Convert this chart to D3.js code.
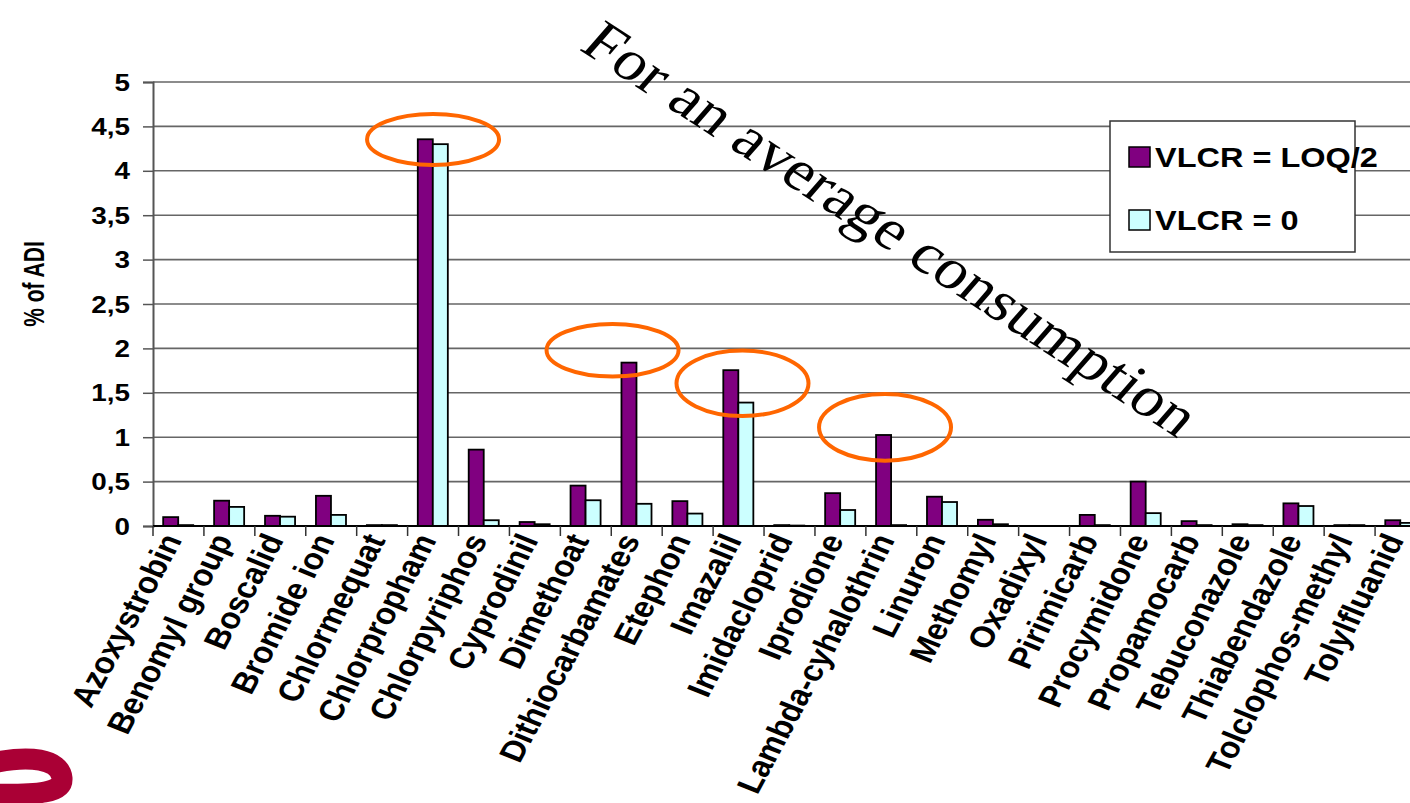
<!DOCTYPE html>
<html>
<head>
<meta charset="utf-8">
<script src="https://cdn.jsdelivr.net/npm/d3@7"></script>
<style>
  html, body { margin: 0; padding: 0; background: #ffffff; }
  svg { display: block; }
</style>
</head>
<body>
<svg id="chart" width="1410" height="803"></svg>
<script>
// Pesticides, exposure as % of ADI
const categories = [
  "Azoxystrobin", "Benomyl group", "Boscalid", "Bromide ion", "Chlormequat",
  "Chlorpropham", "Chlorpyriphos", "Cyprodinil", "Dimethoat", "Dithiocarbamates",
  "Etephon", "Imazalil", "Imidacloprid", "Iprodione", "Lambda-cyhalothrin",
  "Linuron", "Methomyl", "Oxadixyl", "Pirimicarb", "Procymidone",
  "Propamocarb", "Tebuconazole", "Thiabendazole", "Tolclophos-methyl", "Tolylfluanid"
];
// VLCR = LOQ/2
const valuesLoqHalf = [
  0.10, 0.285, 0.115, 0.34, 0.01,
  4.355, 0.86, 0.045, 0.455, 1.84,
  0.28, 1.755, 0.01, 0.37, 1.025,
  0.33, 0.07, 0, 0.125, 0.50,
  0.055, 0.02, 0.255, 0.01, 0.065
];
// VLCR = 0
const valuesZero = [
  0.01, 0.215, 0.105, 0.125, 0.01,
  4.30, 0.065, 0.02, 0.29, 0.25,
  0.14, 1.39, 0.005, 0.18, 0.01,
  0.27, 0.02, 0, 0.01, 0.145,
  0.01, 0.01, 0.225, 0.01, 0.035
];
const seriesNames = ["VLCR = LOQ/2", "VLCR = 0"];
const yTicks = [0, 0.5, 1, 1.5, 2, 2.5, 3, 3.5, 4, 4.5, 5];
const yTitle = "% of ADI";
const annotation = "For an average consumption";
// highlighted bars: category, horizontal shift (in bands), centre value, vertical radius
const callouts = [
  { cat: "Chlorpropham", shift: 0.0, value: 4.353, ry: 25.5 },
  { cat: "Dithiocarbamates", shift: -0.475, value: 1.979, ry: 26.3 },
  { cat: "Imazalil", shift: 0.077, value: 1.607, ry: 32.7 },
  { cat: "Lambda-cyhalothrin", shift: -0.124, value: 1.111, ry: 33.3 }
];

const W = 1410, H = 803;
const SX = 1.16; // horizontal glyph stretch of the slide text
const svg = d3.select("#chart");
const fmt = v => String(v).replace(".", ",");

const plotLeft = 153, plotTop = 82, plotBottom = 526;
const band = 50.92;
const x = d3.scaleBand().domain(categories)
  .range([plotLeft, plotLeft + band * categories.length]).paddingInner(0).paddingOuter(0);
const xs = d3.scaleBand().domain(seriesNames)
  .range([x.bandwidth() * 0.2, x.bandwidth() * 0.79]).paddingInner(0).paddingOuter(0);
const y = d3.scaleLinear().domain([0, 5]).range([plotBottom, plotTop]);

const colors = { "VLCR = LOQ/2": "#800080", "VLCR = 0": "#ccffff" };

// horizontal gridlines
svg.append("g").selectAll("line").data(yTicks.filter(t => t > 0)).join("line")
  .attr("x1", plotLeft).attr("x2", W)
  .attr("y1", d => y(d)).attr("y2", d => y(d))
  .attr("stroke", "#666").attr("stroke-width", 1.6);

// y axis
const yAxis = d3.axisLeft(y).tickValues(yTicks).tickSize(10).tickFormat("");
const gy = svg.append("g").attr("transform", `translate(${plotLeft},0)`).call(yAxis);
gy.select(".domain").attr("stroke", "#555").attr("stroke-width", 2);
gy.selectAll(".tick line").attr("stroke", "#555").attr("stroke-width", 1.5);

svg.append("g").selectAll("text").data(yTicks).join("text")
  .attr("transform", d => `translate(130,${y(d)}) scale(${SX},1)`)
  .attr("dy", "0.36em")
  .attr("text-anchor", "end")
  .attr("font-family", "Liberation Sans, Arial, sans-serif")
  .attr("font-weight", "bold").attr("font-size", 24)
  .text(d => fmt(d));

svg.append("text")
  .attr("transform", `translate(44,284) scale(1.4,1) rotate(-90)`)
  .attr("text-anchor", "middle")
  .attr("font-family", "Liberation Sans, Arial, sans-serif")
  .attr("font-weight", "bold").attr("font-size", 21)
  .text(yTitle);

// bars
const rows = categories.map((c, i) => ({ cat: c, vals: [valuesLoqHalf[i], valuesZero[i]] }));
const groups = svg.append("g").selectAll("g").data(rows).join("g")
  .attr("transform", d => `translate(${x(d.cat)},0)`);
groups.selectAll("rect")
  .data(d => seriesNames.map((s, k) => ({ s, v: d.vals[k] })).filter(e => e.v > 0))
  .join("rect")
  .attr("x", d => xs(d.s))
  .attr("width", xs.bandwidth())
  .attr("y", d => y(d.v))
  .attr("height", d => y(0) - y(d.v))
  .attr("fill", d => colors[d.s])
  .attr("stroke", "#000").attr("stroke-width", 1.8);

// x axis with ticks at the category boundaries
svg.append("line").attr("x1", plotLeft).attr("x2", W)
  .attr("y1", plotBottom).attr("y2", plotBottom)
  .attr("stroke", "#000").attr("stroke-width", 1.8);
const bounds = categories.map(c => x(c));
svg.append("g").selectAll("line").data(bounds).join("line")
  .attr("x1", d => d).attr("x2", d => d)
  .attr("y1", plotBottom).attr("y2", plotBottom + 10)
  .attr("stroke", "#333").attr("stroke-width", 1.5);

svg.append("g").selectAll("text").data(categories).join("text")
  .attr("transform", d => `translate(${x(d) + x.bandwidth() / 2 + 4},540) scale(${SX},1) rotate(-65)`)
  .attr("text-anchor", "end")
  .attr("font-family", "Liberation Sans, Arial, sans-serif")
  .attr("font-weight", "bold").attr("font-size", 29.5)
  .text(d => d);

// orange call-out ellipses
svg.append("g").selectAll("ellipse").data(callouts).join("ellipse")
  .attr("cx", d => x(d.cat) + x.bandwidth() * (0.5 + d.shift))
  .attr("cy", d => y(d.value))
  .attr("rx", 66).attr("ry", d => d.ry)
  .attr("fill", "none").attr("stroke", "#ff6600").attr("stroke-width", 4);

// legend
const lg = svg.append("g");
lg.append("rect").attr("x", 1110).attr("y", 121).attr("width", 245).attr("height", 131)
  .attr("fill", "#fff").attr("stroke", "#333").attr("stroke-width", 1.5);
seriesNames.forEach((s, k) => {
  const yy = 147 + k * 63;
  lg.append("rect").attr("x", 1129).attr("y", yy).attr("width", 21).attr("height", 20)
    .attr("fill", colors[s]).attr("stroke", "#000").attr("stroke-width", 1.5);
  lg.append("text")
    .attr("transform", `translate(1155,${yy + 20}) scale(${SX},1)`)
    .attr("font-family", "Liberation Sans, Arial, sans-serif")
    .attr("font-weight", "bold").attr("font-size", 28)
    .text(s);
});

// diagonal annotation
svg.append("text")
  .attr("transform", `translate(578,49) scale(${SX},1) rotate(37)`)
  .attr("font-family", "Liberation Serif, Times New Roman, serif")
  .attr("font-size", 57)
  .text(annotation);

// corner logo
svg.append("path")
  .attr("d", "M -12 764 C 30 754, 60 759, 62 778 C 63 793, 40 795, -12 794")
  .attr("fill", "none").attr("stroke", "#aa0035").attr("stroke-width", 21)
  .attr("stroke-linecap", "round");
</script>
</body>
</html>
